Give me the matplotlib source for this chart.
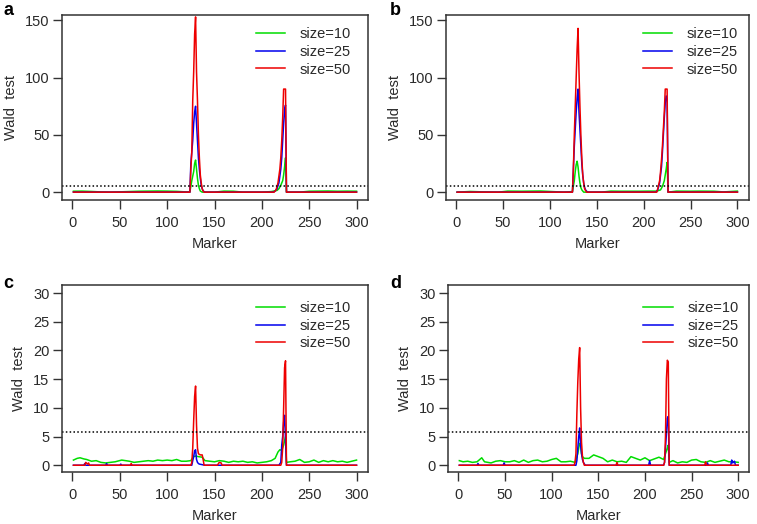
import matplotlib
matplotlib.use("Agg")
import matplotlib.pyplot as plt

plt.rcParams['font.family'] = ['Liberation Sans', 'DejaVu Sans']

labels = ['size=10', 'size=25', 'size=50']
colors = ['#00dd00', '#0000ee', '#ee0000']
threshold = 5.8
x_ticks = [0, 50, 100, 150, 200, 250, 300]

# ---- panel a ----
a_green_x = [1, 10, 20, 30, 40, 70, 80, 90, 100, 110, 120, 124, 126, 128, 129, 130, 131, 132, 133, 134, 135, 137,
             150, 160, 170, 180, 200, 210, 216, 218, 220, 222, 223, 224, 225, 226, 240, 250, 260, 270, 280, 290, 300]
a_green_y = [0.8, 0.9, 0.6, 0.2, 0, 0.8, 0.9, 1.0, 0.9, 0.7, 0.2, 0.3, 10, 18, 25, 28, 20, 12, 6, 3, 1, 0,
             0, 0.9, 0.8, 0, 0, 0.5, 1.5, 3, 6, 10, 15, 22, 30, 0, 0, 0.8, 0.9, 1.0, 0.8, 0.9, 0.8]
a_blue_x = [1, 124, 125, 127, 128, 129, 130, 131, 132, 133, 134, 135, 136, 137, 138, 140,
            212, 214, 216, 218, 220, 221, 222, 223, 224, 225, 226, 300]
a_blue_y = [0, 0, 25, 45, 60, 70, 75, 60, 45, 30, 20, 12, 6, 3, 1, 0,
            0, 1, 3, 8, 20, 30, 45, 60, 72, 76, 0, 0]
a_red_x = [1, 124, 125, 126, 127, 128, 129, 130, 131, 132, 133, 134, 135, 136, 137, 138, 139,
           213, 215, 217, 219, 220, 221, 222, 223, 225, 226, 300]
a_red_y = [0, 0, 20, 35, 80, 105, 138, 153, 105, 80, 50, 30, 15, 8, 3, 1, 0,
           0, 2, 8, 20, 30, 45, 65, 90, 90, 0, 0]

# ---- panel b ----
b_green_x = [1, 15, 30, 45, 55, 70, 80, 90, 100, 115, 124, 126, 127, 128, 129, 130, 131, 132, 133, 134, 135, 136,
             155, 165, 175, 195, 205, 214, 218, 220, 222, 223, 224, 225, 226, 235, 250, 260, 275, 285, 300]
b_green_y = [0, 0.6, 0.2, 0, 0.9, 0.8, 0.9, 1.0, 0.6, 0, 0.5, 10, 18, 24, 27, 22, 14, 8, 4, 2, 1, 0,
             0, 0.9, 0.8, 0.8, 0.9, 0.9, 2, 5, 10, 15, 20, 26, 0, 0.9, 0.8, 0.9, 0.8, 0.2, 0.9]
b_blue_x = [1, 124, 126, 127, 128, 129, 130, 131, 132, 133, 134, 135, 136, 137, 138, 140,
            213, 215, 217, 219, 220, 221, 222, 223, 224, 225, 226, 300]
b_blue_y = [0, 0, 40, 55, 70, 82, 90, 70, 55, 40, 25, 15, 8, 4, 2, 0,
            0, 2, 8, 22, 35, 50, 65, 78, 84, 80, 0, 0]
b_red_x = [1, 124, 125, 126, 127, 128, 129, 130, 131, 132, 133, 134, 135, 136, 137, 139,
           214, 215, 217, 218, 219, 220, 221, 222, 223, 225, 226, 300]
b_red_y = [0, 0, 20, 50, 75, 100, 125, 143, 105, 75, 50, 30, 15, 8, 3, 0,
           0, 3, 10, 18, 28, 40, 55, 70, 90, 90, 0, 0]

# ---- panel c ----
c_green_x = [1, 5, 8, 12, 15, 20, 25, 30, 35, 40, 45, 52, 56, 60, 65, 70, 75, 80, 85, 90, 95, 100, 105, 110, 115,
             120, 125, 128, 130, 133, 137, 140, 145, 150, 155, 160, 165, 170, 175, 180, 185, 190, 195, 200, 205,
             210, 214, 217, 219, 221, 223, 225, 226, 230, 235, 240, 245, 250, 255, 260, 265, 270, 275, 280, 285,
             290, 295, 300]
c_green_y = [0.9, 1.2, 1.3, 1.1, 1.0, 0.7, 0.8, 0.5, 0.4, 0.5, 0.6, 0.9, 0.8, 0.7, 0.5, 0.6, 0.7, 0.8, 0.7, 0.9,
             0.8, 0.9, 0.8, 1.0, 0.7, 0.7, 0.8, 1.5, 1.6, 1.5, 1.4, 0.8, 0.7, 0.6, 0.8, 0.7, 0.5, 0.7, 0.6, 0.7,
             0.5, 0.6, 0.4, 0.5, 0.6, 0.8, 1.2, 2.3, 2.7, 2.6, 3.5, 5.0, 0.5, 0.6, 0.7, 1.0, 0.5, 0.6, 0.9, 0.5,
             0.8, 0.6, 0.8, 0.6, 0.7, 0.5, 0.7, 0.9]
c_blue_x = [1, 12, 13, 14, 35, 36, 37, 50, 51, 52, 126, 127, 128, 129, 130, 131, 132, 133, 134, 140,
            218, 220, 221, 222, 223, 224, 225, 226, 300]
c_blue_y = [0, 0, 0.3, 0, 0, 0.3, 0, 0, 0.2, 0, 0, 0.8, 1.5, 2.5, 2.7, 1.0, 0.5, 0.3, 0.2, 0,
            0, 0.5, 3.5, 5.0, 7.5, 8.7, 4.5, 0, 0]
c_red_x = [1, 13, 14, 16, 17, 18, 61, 62, 63, 125, 126, 127, 128, 129, 130, 131, 132, 133, 135, 137, 138,
           139, 153, 155, 157, 158, 220, 221, 222, 223, 224, 225, 226, 300]
c_red_y = [0, 0, 0.5, 0.2, 0.4, 0, 0, 0.3, 0, 0, 0.5, 3, 7.8, 12, 13.8, 7, 3, 2, 1.8, 1.8, 1.0,
           0, 0, 0.5, 0.4, 0, 0, 0.5, 3, 10, 17, 18.2, 0, 0]

# ---- panel d ----
d_green_x = [1, 5, 10, 15, 20, 25, 28, 35, 40, 45, 50, 55, 60, 65, 70, 75, 80, 85, 90, 95, 100, 105, 110, 115,
             120, 125, 128, 129, 130, 131, 132, 133, 135, 140, 145, 150, 155, 160, 165, 170, 175, 180, 185, 190,
             195, 200, 205, 210, 215, 220, 222, 224, 225, 226, 230, 235, 240, 245, 250, 255, 260, 265, 270, 275,
             280, 285, 290, 295, 300]
d_green_y = [0.8, 0.6, 0.7, 0.5, 0.6, 1.3, 0.6, 0.4, 0.7, 0.8, 0.6, 0.6, 0.8, 0.5, 0.9, 0.5, 0.8, 0.9, 0.6, 0.7,
             1.0, 1.2, 0.6, 0.6, 0.7, 0.5, 2.0, 3.0, 3.8, 3.5, 2.0, 1.5, 1.2, 1.2, 1.8, 1.5, 1.2, 0.6, 0.9, 0.6,
             0.7, 0.5, 1.5, 1.2, 0.9, 1.3, 0.8, 1.1, 1.4, 1.0, 2.0, 3.0, 3.5, 0.5, 0.8, 0.4, 0.6, 0.5, 0.9, 1.0,
             0.6, 0.5, 0.8, 0.5, 0.7, 0.9, 0.6, 0.6, 0.5]
d_blue_x = [1, 20, 21, 22, 48, 49, 50, 126, 127, 128, 129, 130, 131, 132, 133, 134, 136,
            204, 205, 206, 220, 221, 222, 223, 224, 225, 226, 266, 267, 268, 292, 293, 294, 296, 297, 300]
d_blue_y = [0, 0, 0.3, 0, 0, 0.4, 0, 0, 0.8, 3.0, 5.0, 6.5, 3.5, 2.0, 1.0, 0.5, 0,
            0, 0.8, 0, 0, 0.5, 3.0, 5.5, 8.2, 8.5, 0, 0, 0.4, 0, 0, 0.9, 0.4, 0.7, 0, 0]
d_red_x = [1, 124, 125, 126, 127, 128, 129, 130, 131, 132, 133, 134, 135,
           169, 170, 171, 220, 221, 222, 223, 224, 225, 226, 264, 265, 266, 300]
d_red_y = [0, 0, 0.5, 2, 9, 14.5, 18.5, 20.5, 10, 4, 1.5, 0.5, 0,
           0, 0.5, 0, 0, 0.5, 5, 15, 18.3, 18, 0, 0, 0.6, 0, 0]

# letter, axes rect, ylim, yticks, series, legend anchor, letter position (pixels from top-left)
panels = [
    ('a', [0.082, 0.618, 0.404, 0.353], (-7, 154.5), [0, 50, 100, 150],
     [(a_green_x, a_green_y), (a_blue_x, a_blue_y), (a_red_x, a_red_y)], (0.634, 0.935), (3, 2)),
    ('b', [0.589, 0.618, 0.400, 0.353], (-7, 154.5), [0, 50, 100, 150],
     [(b_green_x, b_green_y), (b_blue_x, b_blue_y), (b_red_x, b_red_y)], (0.65, 0.935), (390, 2)),
    ('c', [0.082, 0.099, 0.404, 0.357], (-1.2, 31.4), [0, 5, 10, 15, 20, 25, 30],
     [(c_green_x, c_green_y), (c_blue_x, c_blue_y), (c_red_x, c_red_y)], (0.634, 0.914), (3, 275)),
    ('d', [0.592, 0.099, 0.398, 0.357], (-1.2, 31.4), [0, 5, 10, 15, 20, 25, 30],
     [(d_green_x, d_green_y), (d_blue_x, d_blue_y), (d_red_x, d_red_y)], (0.648, 0.914), (390, 275)),
]

W, H = 757, 524
fig = plt.figure(figsize=(W / 100, H / 100), dpi=100)
txt = '#2a2a2a'
fs = 10.5

for letter, pos, ylim, yticks, series, leg_pos, let_xy in panels:
    ax = fig.add_axes(pos)
    for (xs, ys), col, lab in zip(series, colors, labels):
        ax.plot(xs, ys, color=col, lw=1.1, label=lab)
    ax.axhline(threshold, color='black', ls=(0, (1, 1.5)), lw=1.1)
    ax.set_xlim(-11, 312)
    ax.set_ylim(*ylim)
    ax.set_xticks(x_ticks)
    ax.set_yticks(yticks)
    ax.tick_params(direction='out', length=6.5, width=1.0, colors='#333333', labelcolor=txt,
                   labelsize=fs)
    ax.tick_params(axis='x', pad=5)
    ax.tick_params(axis='y', pad=2.5)
    for sp in ax.spines.values():
        sp.set_color('#333333')
        sp.set_linewidth(1.1)
    ax.set_xlabel('Marker', fontsize=fs, color=txt, labelpad=5)
    ax.set_ylabel('Wald  test', fontsize=fs, color=txt, labelpad=5)
    ax.legend(loc='upper left', bbox_to_anchor=leg_pos, frameon=False, fontsize=fs,
              handlelength=2.0, handletextpad=1.0, labelspacing=0.25, borderpad=0,
              borderaxespad=0, labelcolor=txt)
    fig.text(let_xy[0] / W, 1 - let_xy[1] / H, letter, fontsize=13, fontweight='bold',
             color='black', va='top', ha='left')

fig.savefig('out.png', dpi=100)
